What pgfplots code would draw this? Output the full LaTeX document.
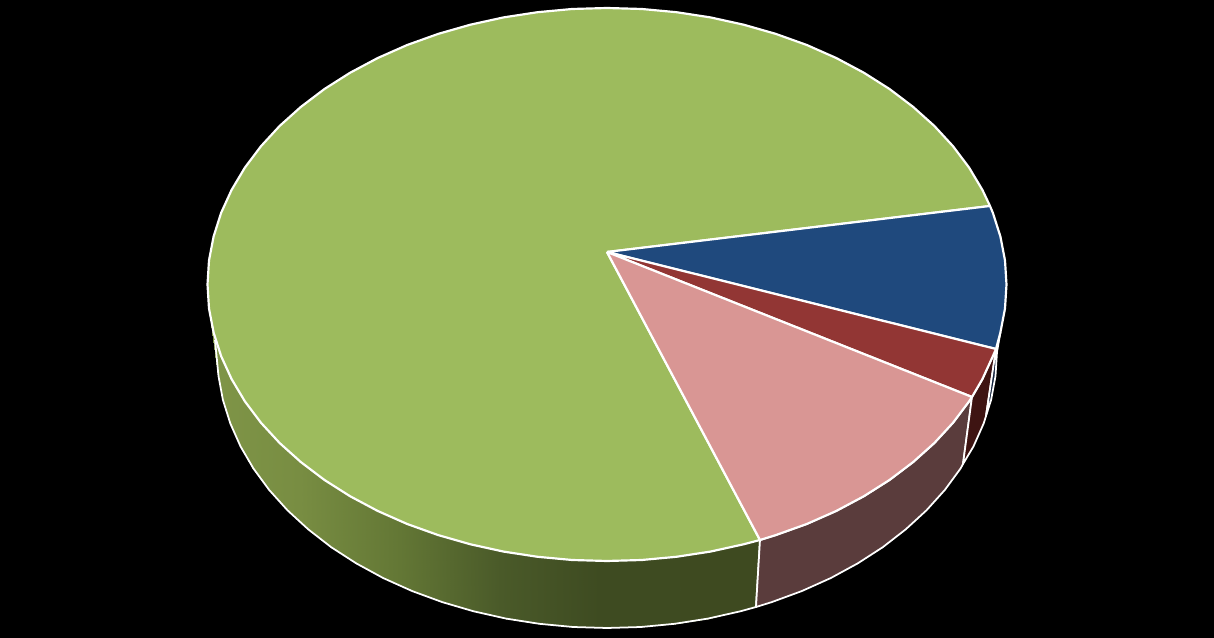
\documentclass[border=0pt]{standalone}
\usepackage{pgfplots}
\pgfplotsset{compat=1.18}
\definecolor{topgreen}{RGB}{157,187,93}
\definecolor{topblue}{RGB}{31,73,125}
\definecolor{topred}{RGB}{146,54,52}
\definecolor{toppink}{RGB}{217,150,148}
\definecolor{wallblue}{RGB}{16,32,58}
\definecolor{wallred}{RGB}{62,20,18}
\definecolor{wallpink}{RGB}{90,60,60}
\pgfplotsset{colormap={greenwall}{rgb255(0pt)=(128,150,72); rgb255(100pt)=(120,141,66); rgb255(200pt)=(99,119,53); rgb255(300pt)=(74,90,41); rgb255(400pt)=(62,75,33); rgb255(560pt)=(62,74,32)}}
\begin{document}
\begin{tikzpicture}
\fill[black] (0,0) rectangle (12.14cm,6.38cm);
\begin{axis}[
  at={(0,0)}, anchor=south west,
  width=12.14cm, height=6.38cm, scale only axis,
  xmin=0, xmax=1214, ymin=0, ymax=638, y dir=reverse,
  hide axis,
  colormap name=greenwall,
  point meta min=200, point meta max=760,
  slice/.style={draw=white, line width=0.62pt, line join=round},
  wall/.style={draw=white, line width=0.5pt, line join=round},
]
% side wall of the big green slice, upper rim / lower rim pairs
\addplot[surf, shader=interp, mesh/cols=2, point meta=x] table {
x y
207.5 284.5
217 352
209 308.6
218.5 376.1
213.6 332.5
222.9 399.9
221.1 356.1
230.3 423.4
231.6 379.1
240.5 446.4
244.9 401.4
253.5 468.6
261 422.8
269.2 490
279.7 443.1
287.5 510.3
301 462.2
308.3 529.4
324.5 480
331.2 547.2
350.2 496.3
356.3 563.4
377.8 511
383.3 578.1
407.2 524
412 591
438.2 535.1
442.2 602.1
470.4 544.3
473.6 611.3
503.6 551.6
506.1 618.6
537.6 556.8
539.3 623.8
572.2 560
573 627
607 561
607 628
641.8 560
641 627
676.4 556.8
674.7 623.8
710.4 551.6
707.9 618.6
743.6 544.3
740.4 611.3
760 540
756 607
};
% outer edge of the green wall
\addplot[wall, no marks] coordinates {
(215,340) (218.5,376.1) (222.9,399.9) (230.3,423.4) (240.5,446.4) (253.5,468.6) (269.2,490)
(287.5,510.3) (308.3,529.4) (331.2,547.2) (356.3,563.4) (383.3,578.1) (412,591)
(442.2,602.1) (473.6,611.3) (506.1,618.6) (539.3,623.8) (573,627) (607,628)
(641,627) (674.7,623.8) (707.9,618.6) (740.4,611.3) (756,607) (760,540)};
% pink wall
\addplot[wall, fill=wallpink] coordinates {
(760,540) (775.8,535.1) (806.8,524) (836.2,511) (863.8,496.3) (889.5,480) (913,462.2)
(934.3,443.1) (953,422.8) (969.1,401.4) (972,397)
(963,464) (960.5,468.6) (944.8,490) (926.5,510.3) (905.7,529.4) (882.8,547.2)
(857.7,563.4) (830.7,578.1) (802,591) (771.8,602.1) (756,607) (760,540)};
% red wall
\addplot[wall, fill=wallred] coordinates {
(972,397) (982.4,379.1) (992.9,356.1) (996,349)
(986,416) (983.7,423.4) (973.5,446.4) (963,464) (972,397)};
% blue wall
\addplot[wall, fill=wallblue] coordinates {
(996,349) (1000.4,332.5) (997,352) (995.5,376.1) (991.1,399.9) (986,416) (996,349)};
% top: green slice
\addplot[slice, fill=topgreen] coordinates {
(607,252) (760,540) (743.6,544.3) (710.4,551.6) (676.4,556.8) (641.8,560) (607,561)
(572.2,560) (537.6,556.8) (503.6,551.6) (470.4,544.3) (438.2,535.1) (407.2,524)
(377.8,511) (350.2,496.3) (324.5,480) (301,462.2) (279.7,443.1) (261,422.8)
(244.9,401.4) (231.6,379.1) (221.1,356.1) (213.6,332.5) (209,308.6) (207.5,284.5)
(209,260.4) (213.6,236.5) (221.1,212.9) (231.6,189.9) (244.9,167.6) (261,146.2)
(279.7,125.9) (301,106.8) (324.5,89) (350.2,72.7) (377.8,58) (407.2,45) (438.2,33.9)
(470.4,24.7) (503.6,17.4) (537.6,12.2) (572.2,9) (607,8) (641.8,9) (676.4,12.2)
(710.4,17.4) (743.6,24.7) (775.8,33.9) (806.8,45) (836.2,58) (863.8,72.7) (889.5,89)
(913,106.8) (934.3,125.9) (953,146.2) (969.1,167.6) (982.4,189.9) (990,206) (607,252)};
% top: blue slice
\addplot[slice, fill=topblue] coordinates {
(607,252) (990,206) (992.9,212.9) (1000.4,236.5) (1005,260.4) (1006.5,284.5)
(1005,308.6) (1000.4,332.5) (996,349) (607,252)};
% top: red slice
\addplot[slice, fill=topred] coordinates {
(607,252) (996,349) (992.9,356.1) (982.4,379.1) (972,397) (607,252)};
% top: pink slice
\addplot[slice, fill=toppink] coordinates {
(607,252) (972,397) (969.1,401.4) (953,422.8) (934.3,443.1) (913,462.2) (889.5,480)
(863.8,496.3) (836.2,511) (806.8,524) (775.8,535.1) (760,540) (607,252)};
\end{axis}
\end{tikzpicture}
\end{document}
